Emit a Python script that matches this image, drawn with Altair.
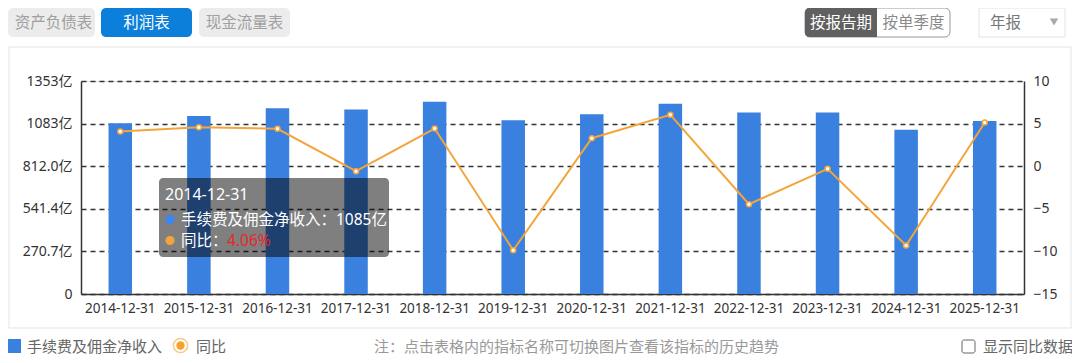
import altair as alt
import pandas as pd

# ---------------- data ----------------
dates = ["2014-12-31", "2015-12-31", "2016-12-31", "2017-12-31", "2018-12-31", "2019-12-31",
         "2020-12-31", "2021-12-31", "2022-12-31", "2023-12-31", "2024-12-31", "2025-12-31"]
income = [1085, 1131, 1180, 1173, 1222, 1104, 1142, 1209, 1154, 1154, 1044, 1099]
yoy = [4.06, 4.58, 4.39, -0.59, 4.42, -9.86, 3.29, 6.03, -4.46, -0.31, -9.31, 5.13]
left_ticks = [0, 270.68, 541.36, 812.04, 1082.72, 1353.4]
right_ticks = [-15, -10, -5, 0, 5, 10]

tabs = ["资产负债表", "利润表", "现金流量表"]
modes = ["按报告期", "按单季度"]
period = "年报"
legend_names = ["手续费及佣金净收入", "同比"]
note = "注：点击表格内的指标名称可切换图片查看该指标的历史趋势"
checkbox_label = "显示同比数据"

df = pd.DataFrame({"date": dates, "income": income, "yoy": yoy})

FONT = "Noto Sans, Noto Sans CJK SC"
CJK = "Noto Sans CJK SC"
BAR = "#3a80de"
ORANGE = "#f3a53c"

OX, OY = 81, 81  # page position of plot origin


def P(v, o):
    return alt.value(v - o)


one = pd.DataFrame({"k": [0]})


def rect(x1, y1, x2, y2, **mk):
    return alt.Chart(one).mark_rect(**mk).encode(
        x=P(x1, OX), x2=P(x2, OX), y=P(y1, OY), y2=P(y2, OY))


def text(s, x, y, **mk):
    mk.setdefault("font", CJK)
    mk.setdefault("baseline", "middle")
    return alt.Chart(pd.DataFrame({"t": [s]})).mark_text(**mk).encode(
        x=P(x, OX), y=P(y, OY), text="t:N")


def dot(x, y, **mk):
    return alt.Chart(one).mark_point(**mk).encode(x=P(x, OX), y=P(y, OY))


def disc(x, y, **mk):
    return alt.Chart(one).mark_circle(**mk).encode(x=P(x, OX), y=P(y, OY))


X = alt.X("date:N", sort=dates, title=None,
          scale=alt.Scale(paddingInner=0, paddingOuter=0),
          axis=alt.Axis(labelAngle=0, ticks=False, domainColor="#333", domainWidth=1.5,
                        labelFontSize=13.5, labelColor="#333", labelPadding=7,
                        labelFont=FONT, grid=False))

bars = alt.Chart(df).mark_bar(size=23.5, color=BAR).encode(
    x=X,
    y=alt.Y("income:Q", title=None,
            scale=alt.Scale(domain=[0, 1353.4], nice=False, zero=True),
            axis=alt.Axis(values=left_ticks, grid=True, gridDash=[5, 4], gridColor="#333",
                          gridWidth=1.6, ticks=False, domainColor="#333", domainWidth=1.5,
                          labelPadding=9, labelFontSize=14, labelColor="#333", labelFont=FONT,
                          labelExpr="datum.value == 0 ? '0' : (datum.value >= 1000 ? format(datum.value, '.0f') : format(datum.value, '.1f')) + '亿'")),
)

Yr = alt.Y("yoy:Q", title=None,
           scale=alt.Scale(domain=[-15, 10], nice=False, zero=False),
           axis=alt.Axis(orient="right", values=right_ticks, grid=False, ticks=False,
                         domainColor="#333", domainWidth=1.5, labelPadding=9,
                         labelFontSize=14, labelColor="#333", labelFont=FONT, format="d"))

line = alt.Chart(df).mark_line(color=ORANGE, strokeWidth=2).encode(x=X, y=Yr)
pts = alt.Chart(df).mark_point(filled=True, fill="white", stroke=ORANGE, strokeWidth=1.5,
                               size=25, opacity=1).encode(x=X, y=Yr)
right = alt.layer(line, pts)

decos = []
# outer panel border
decos.append(rect(9, 47, 1071, 328, fill="transparent", stroke="#e3e3e3", strokeWidth=1))
# top tabs
tab_boxes = [(8, 95), (101, 192), (199, 290)]
for i, (a, b) in enumerate(tab_boxes):
    active = i == 1
    decos.append(rect(a, 8, b, 37, fill="#0b7fd9" if active else "#ececec", cornerRadius=5))
    decos.append(text(tabs[i], (a + b) / 2 + (2 if i == 0 else 0), 22.5, fontSize=15.5,
                      align="center", color="white" if active else "#a0a0a0"))
# mode toggle
decos.append(rect(805, 8, 950, 37, fill="white", stroke="#999", strokeWidth=1, cornerRadius=5))
decos.append(rect(805, 8, 877, 37, fill="#606060", cornerRadius=4))
decos.append(rect(870, 8, 877, 37, fill="#606060"))
decos.append(text(modes[0], 841, 22.5, fontSize=15.5, align="center", color="white"))
decos.append(text(modes[1], 913.5, 22.5, fontSize=15.5, align="center", color="#8a8a8a"))
# period dropdown
decos.append(rect(979, 8, 1065, 37, fill="white", stroke="#e2e2e2", strokeWidth=1))
decos.append(text(period, 990, 22.5, fontSize=15.5, align="left", color="#777"))
decos.append(dot(1054, 22, shape="triangle-down", filled=True, color="#a8a8a8", size=70, opacity=1))

# tooltip overlay
decos.append(rect(159, 178, 389, 257, fill="black", opacity=0.5, cornerRadius=4))
decos.append(text(dates[0], 165, 195, fontSize=16, align="left", color="white", font=FONT))
decos.append(disc(170, 219.5, color="#3b86f2", size=85, opacity=1))
decos.append(text(f"{legend_names[0]}：{income[0]}亿", 181, 219.5, fontSize=15.5,
                  align="left", color="white", font=FONT))
decos.append(disc(170, 240.5, color=ORANGE, size=85, opacity=1))
decos.append(text(f"{legend_names[1]}：", 181, 240.5, fontSize=15.5, align="left",
                  color="white", font=FONT))
decos.append(text(f"{yoy[0]:.2f}%", 227, 240.5, fontSize=15.5, align="left",
                  color="#e8262b", font=FONT))

# bottom legend
decos.append(rect(8, 339, 21, 353, fill=BAR))
decos.append(text(legend_names[0], 27, 346.5, fontSize=15, align="left", color="#666"))
decos.append(dot(180.5, 345.5, shape="circle", filled=False, color="#f8c98a", size=200,
                 strokeWidth=1.5, opacity=1))
decos.append(disc(180.5, 345.5, color="#f5a328", size=70, opacity=1))
decos.append(text(legend_names[1], 196, 346.5, fontSize=15, align="left", color="#666"))
decos.append(text(note, 374, 346.5, fontSize=15, align="left", color="#999"))
decos.append(rect(962, 340, 975, 353, fill="white", stroke="#666", strokeWidth=1, cornerRadius=2))
decos.append(text(checkbox_label, 983, 346.5, fontSize=15, align="left", color="#666"))

chart = alt.layer(bars, right).resolve_scale(y="independent")
chart = alt.layer(chart, *decos).properties(
    width=943, height=213,
    padding={"left": 73, "top": 73, "right": 48, "bottom": 60},
    autosize=alt.AutoSizeParams(type="none"),
).configure_view(stroke=None).configure(font=FONT)

chart.save("out.html", embed_options={"renderer": "svg", "actions": False})
